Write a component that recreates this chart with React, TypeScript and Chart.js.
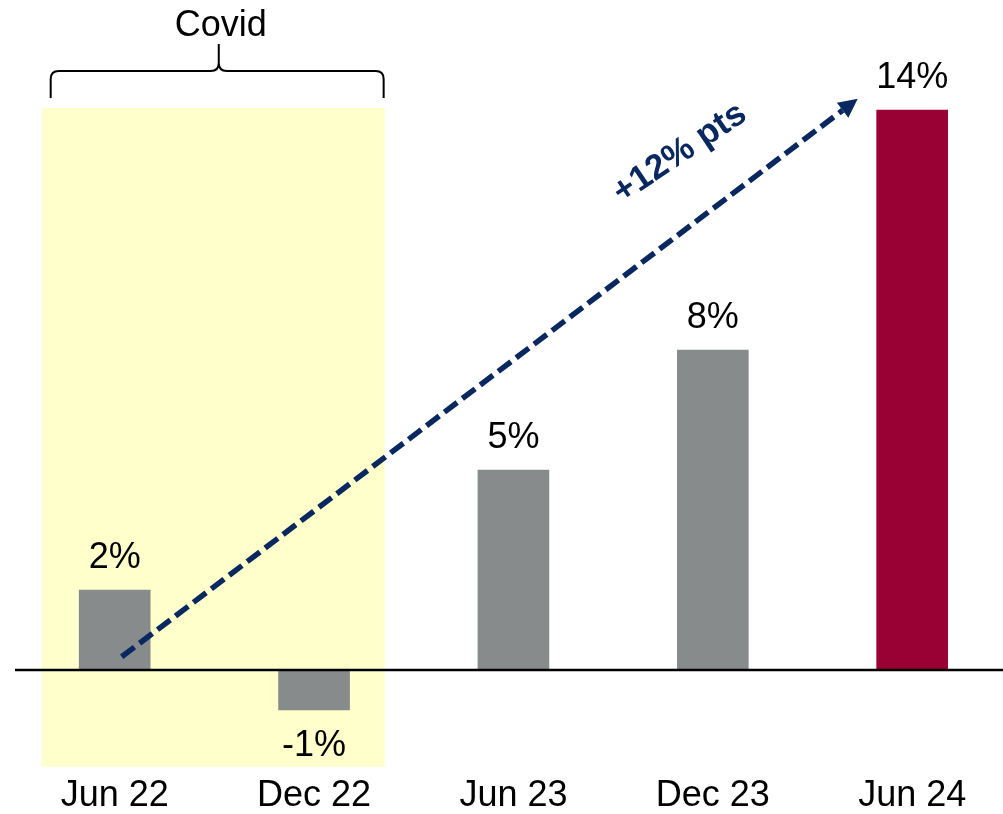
import { useEffect, useRef } from 'react';
import { Chart, registerables } from 'chart.js';

Chart.register(...registerables);

// ---- data ----
const categories = ['Jun 22', 'Dec 22', 'Jun 23', 'Dec 23', 'Jun 24'];
const values = [2, -1, 5, 8, 14];
const valueLabels = ['2%', '-1%', '5%', '8%', '14%'];
const barColors = ['#888B8B', '#888B8B', '#888B8B', '#888B8B', '#990033'];
const covidLabel = 'Covid';
const arrowLabel = '+12% pts';

// ---- annotation geometry (in data units: x = category index, y = %) ----
const covidBox = { x0: -0.366, x1: 1.354, y0: 14.05, y1: -2.42 };
const covidBrace = { x0: -0.321, x1: 1.349, xm: 0.522, yEnd: 14.3, yH: 14.975, yTop: 15.65 };
const covidText = { x: 0.532, y: 15.85 };
const arrow = { x0: 0.035, y0: 0.33, x1: 3.727, y1: 14.28 };
const arrowText = { x: 2.835, y: 12.92, angleDeg: -34 };

const FONT = '"Liberation Sans", Arial, Helvetica, sans-serif';
const NAVY = '#0A2860';

const overlay = {
  id: 'overlay',
  beforeDatasetsDraw(chart: any) {
    const { ctx, scales } = chart;
    const x = scales.x;
    const y = scales.y;
    ctx.save();
    ctx.fillStyle = '#FFFFCC';
    const bx0 = x.getPixelForValue(covidBox.x0);
    const bx1 = x.getPixelForValue(covidBox.x1);
    const by0 = y.getPixelForValue(covidBox.y0);
    const by1 = y.getPixelForValue(covidBox.y1);
    ctx.fillRect(bx0, by0, bx1 - bx0, by1 - by0);
    ctx.restore();
  },
  afterDatasetsDraw(chart: any) {
    const { ctx, scales, chartArea } = chart;
    const x = scales.x;
    const y = scales.y;
    ctx.save();

    // zero line
    const y0 = y.getPixelForValue(0);
    ctx.strokeStyle = '#000';
    ctx.lineWidth = 2.5;
    ctx.beginPath();
    ctx.moveTo(chartArea.left, y0);
    ctx.lineTo(chartArea.right, y0);
    ctx.stroke();

    // value labels
    ctx.fillStyle = '#000';
    ctx.font = `36px ${FONT}`;
    ctx.textAlign = 'center';
    ctx.textBaseline = 'alphabetic';
    values.forEach((v, i) => {
      const px = x.getPixelForValue(i);
      const py = y.getPixelForValue(v);
      const ly = v >= 0 ? py - 22 : py + 46;
      ctx.fillText(valueLabels[i], px, ly);
    });

    // covid brace
    const L = x.getPixelForValue(covidBrace.x0);
    const R = x.getPixelForValue(covidBrace.x1);
    const M = x.getPixelForValue(covidBrace.xm);
    const yE = y.getPixelForValue(covidBrace.yEnd);
    const yH = y.getPixelForValue(covidBrace.yH);
    const yT = y.getPixelForValue(covidBrace.yTop);
    const r = 8;
    ctx.strokeStyle = '#000';
    ctx.lineWidth = 2;
    ctx.beginPath();
    ctx.moveTo(L, yE);
    ctx.lineTo(L, yH + r);
    ctx.quadraticCurveTo(L, yH, L + r, yH);
    ctx.lineTo(M - r, yH);
    ctx.quadraticCurveTo(M, yH, M, yH - r);
    ctx.lineTo(M, yT);
    ctx.moveTo(R, yE);
    ctx.lineTo(R, yH + r);
    ctx.quadraticCurveTo(R, yH, R - r, yH);
    ctx.lineTo(M + r, yH);
    ctx.quadraticCurveTo(M, yH, M, yH - r);
    ctx.stroke();

    ctx.fillStyle = '#000';
    ctx.font = `36px ${FONT}`;
    ctx.textAlign = 'center';
    ctx.textBaseline = 'alphabetic';
    ctx.fillText(covidLabel, x.getPixelForValue(covidText.x), y.getPixelForValue(covidText.y));

    // arrow
    const ax0 = x.getPixelForValue(arrow.x0);
    const ay0 = y.getPixelForValue(arrow.y0);
    const ax1 = x.getPixelForValue(arrow.x1);
    const ay1 = y.getPixelForValue(arrow.y1);
    const ang = Math.atan2(ay1 - ay0, ax1 - ax0);
    const headLen = 19;
    const headHalf = 9.5;
    const ex = ax1 - headLen * Math.cos(ang);
    const ey = ay1 - headLen * Math.sin(ang);
    ctx.strokeStyle = NAVY;
    ctx.lineWidth = 5.5;
    ctx.lineCap = 'butt';
    ctx.setLineDash([16, 6.5]);
    ctx.beginPath();
    ctx.moveTo(ax0, ay0);
    ctx.lineTo(ex, ey);
    ctx.stroke();
    ctx.setLineDash([]);
    ctx.fillStyle = NAVY;
    ctx.beginPath();
    ctx.moveTo(ax1, ay1);
    ctx.lineTo(ex + headHalf * Math.sin(ang), ey - headHalf * Math.cos(ang));
    ctx.lineTo(ex - headHalf * Math.sin(ang), ey + headHalf * Math.cos(ang));
    ctx.closePath();
    ctx.fill();

    // arrow label
    ctx.translate(x.getPixelForValue(arrowText.x), y.getPixelForValue(arrowText.y));
    ctx.rotate((arrowText.angleDeg * Math.PI) / 180);
    ctx.font = `bold 35px ${FONT}`;
    ctx.textAlign = 'center';
    ctx.textBaseline = 'middle';
    ctx.fillStyle = NAVY;
    ctx.fillText(arrowLabel, 0, 0);

    ctx.restore();
  },
};

export default function App() {
  const ref = useRef<HTMLCanvasElement>(null);
  useEffect(() => {
    if (!ref.current) return;
    const chart = new Chart(ref.current, {
      type: 'bar',
      data: {
        datasets: [
          {
            data: values.map((v, i) => ({ x: i, y: v })),
            backgroundColor: barColors,
            borderWidth: 0,
            barThickness: 71,
          },
        ],
      },
      options: {
        responsive: false,
        animation: false,
        devicePixelRatio: 1,
        layout: { padding: { left: 15, right: 0, top: 0, bottom: 0 } },
        plugins: { legend: { display: false }, tooltip: { enabled: false } },
        scales: {
          x: {
            type: 'linear',
            offset: false,
            min: -0.5,
            max: 4.4555,
            grid: { display: false, drawTicks: false },
            border: { display: false },
            afterBuildTicks: (axis: any) => {
              axis.ticks = categories.map((_, i) => ({ value: i }));
            },
            ticks: {
              callback: (v: any) => categories[v as number] ?? '',
              font: { family: FONT, size: 36, lineHeight: 1 },
              color: '#000',
              padding: 0,
              maxRotation: 0,
              minRotation: 0,
              autoSkip: false,
            },
          },
          y: {
            display: false,
            min: -2.7,
            max: 16.75,
          },
        },
      },
      plugins: [overlay],
    } as any);
    return () => chart.destroy();
  }, []);
  return (
    <div style={{ position: 'fixed', left: 0, top: 0, width: 1003, height: 814, background: '#fff' }}>
      <canvas ref={ref} width={1003} height={814} style={{ display: 'block', width: 1003, height: 814 }} />
    </div>
  );
}
